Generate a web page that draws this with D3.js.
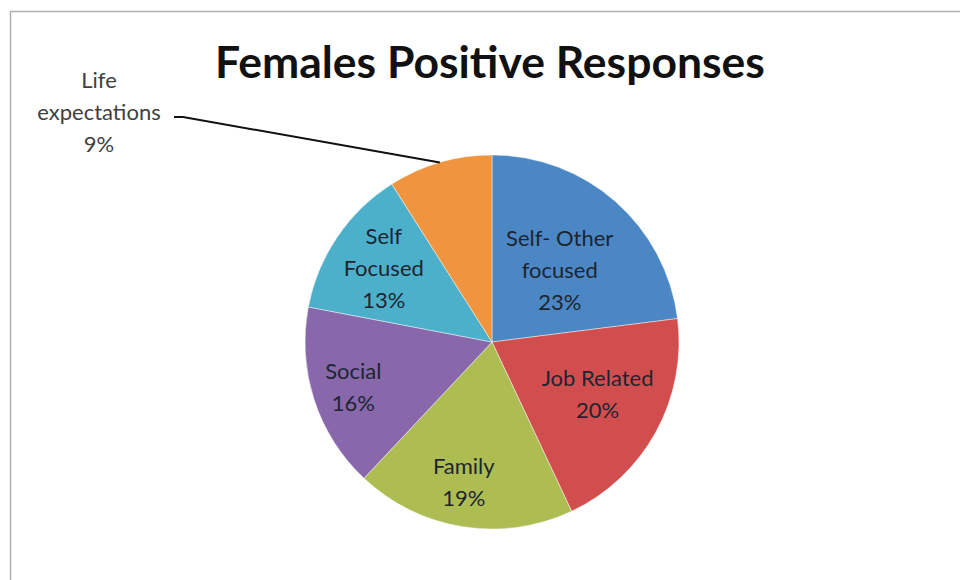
<!DOCTYPE html>
<html>
<head>
<meta charset="utf-8">
<script src="https://cdn.jsdelivr.net/npm/d3@7/dist/d3.min.js"></script>
<style>
  html, body { margin: 0; padding: 0; background: #fff; }
  svg { display: block; }
</style>
</head>
<body>
<svg id="chart" width="960" height="580"></svg>
<script>
// ---- data ----
const categories = ["Self- Other focused", "Job Related", "Family", "Social", "Self Focused", "Life expectations"];
const values = [23, 20, 19, 16, 13, 9];
const colors = ["#4b87c4", "#d24e4e", "#adbd52", "#8868ab", "#4cb0cb", "#f0943f"];
const labelLines = [["Self- Other", "focused"], ["Job Related"], ["Family"], ["Social"], ["Self", "Focused"], ["Life", "expectations"]];
const title = "Females Positive Responses";

// ---- layout ----
const W = 960, H = 580;
const cx = 492, cy = 342, R = 187;
const labelRadius = [0.58, 0.62, 0.76, 0.78, 0.70, 0]; // fraction of R
const labelNudge = [[-4, 10], [4, -4], [-6, 0], [0, 0], [0, 0], [0, 0]];
const lineH = 32;
const labelSize = 22;

const svg = d3.select("#chart");

// frame
svg.append("rect").attr("x", 10.5).attr("y", 11.5).attr("width", 960).attr("height", 580)
  .attr("fill", "none").attr("stroke", "#b0b0b0").attr("stroke-width", 1.5);

// title
const t = svg.append("text").attr("x", 490).attr("y", 78).attr("text-anchor", "middle")
  .attr("font-family", "Lato, 'Open Sans', sans-serif").attr("font-weight", "bold")
  .attr("font-size", 42).attr("fill", "#111").text(title);
const tw = t.node().getComputedTextLength();
t.attr("font-size", 42 * 550 / tw);

const data = categories.map((c, i) => ({ name: c, value: values[i], i }));
const pie = d3.pie().value(d => d.value).sort(null);
const arcs = pie(data);
const arc = d3.arc().innerRadius(0).outerRadius(R);

const g = svg.append("g").attr("transform", `translate(${cx},${cy})`);
g.selectAll("path").data(arcs).join("path")
  .attr("d", arc)
  .attr("fill", d => colors[d.data.i])
  .attr("stroke", "rgba(255,255,255,0.55)")
  .attr("stroke-width", 0.8);

const font = "Lato, 'Open Sans', sans-serif";
arcs.forEach(a => {
  const i = a.data.i;
  if (labelRadius[i] === 0) return;
  const mid = (a.startAngle + a.endAngle) / 2;
  const r = R * labelRadius[i];
  const x = r * Math.sin(mid) + labelNudge[i][0];
  const y = -r * Math.cos(mid) + labelNudge[i][1];
  const lines = labelLines[i].concat([values[i] + "%"]);
  const y0 = y - (lines.length - 1) * lineH / 2;
  const txt = g.append("text").attr("text-anchor", "middle")
    .attr("font-family", font).attr("font-size", labelSize).attr("fill", "#1e2530");
  lines.forEach((l, k) => {
    txt.append("tspan").attr("x", x).attr("y", y0 + k * lineH).attr("dy", "0.35em").text(l);
  });
});

// outside label for Life expectations
const last = arcs[arcs.length - 1];
const li = last.data.i;
const midL = (last.startAngle + last.endAngle) / 2;
const edge = [R * Math.sin(midL) + cx, -R * Math.cos(midL) + cy];
const lbl = svg.append("text").attr("text-anchor", "middle")
  .attr("font-family", font).attr("font-size", labelSize).attr("fill", "#404040");
const outLines = labelLines[li].concat([values[li] + "%"]);
outLines.forEach((l, k) => {
  lbl.append("tspan").attr("x", 99).attr("y", 80 + k * lineH).attr("dy", "0.35em").text(l);
});
svg.append("path")
  .attr("d", `M174,117 L183,117 L${edge[0]},${edge[1]}`)
  .attr("fill", "none").attr("stroke", "#111").attr("stroke-width", 2);
</script>
</body>
</html>
